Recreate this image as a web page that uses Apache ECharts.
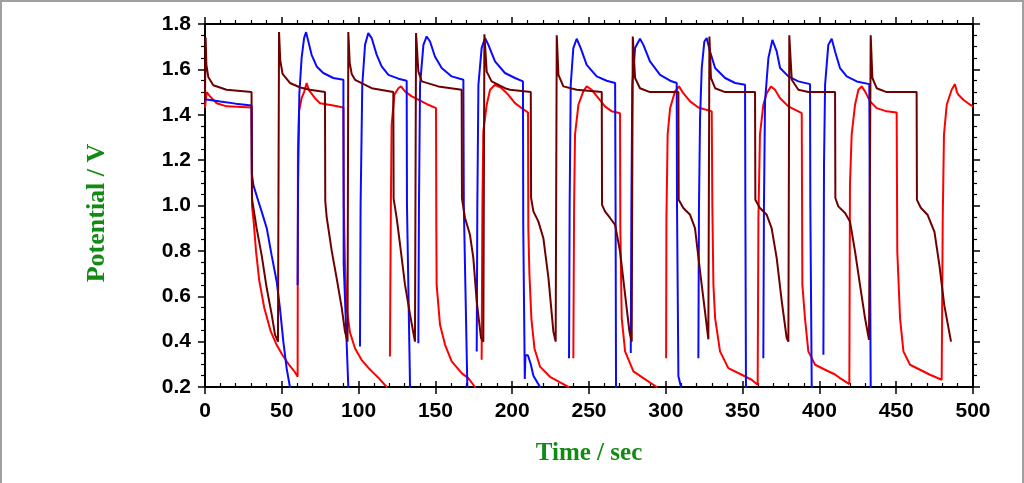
<!DOCTYPE html>
<html>
<head>
<meta charset="utf-8">
<script src="https://cdn.jsdelivr.net/npm/echarts@6/dist/echarts.min.js"></script>
<style>
html,body{margin:0;padding:0;background:#fff;}
#wrap{position:relative;width:1024px;height:483px;}
#chart{position:absolute;left:0;top:0;width:1024px;height:483px;}
#frame{position:absolute;left:0;top:0;width:1020px;height:483px;border-left:2px solid #a0a0a0;border-top:2px solid #a0a0a0;border-right:2px solid #a0a0a0;pointer-events:none;box-sizing:content-box;}
</style>
</head>
<body>
<div id="wrap"><div id="chart"></div><div id="frame"></div></div>
<script>
// tick labels
const xTicks = [0, 50, 100, 150, 200, 250, 300, 350, 400, 450, 500];
const yTicks = [0.2, 0.4, 0.6, 0.8, 1.0, 1.2, 1.4, 1.6, 1.8];

// Series: Time (s) and Potential (V); null marks a break in the trace
const maroonT = [0,0.4,0.9,2.2,5.4,14,30.3,30.6,31.5,33.6,36.9,40.2,43.4,45.6,47.5,
 48.2,49.0,50.5,55.3,62,68.4,78.1,78.3,79.2,82.5,85.7,89,91.1,92.8,
 93.3,94.2,95.5,97.7,108.5,122.6,122.8,124.8,127.0,130.2,133.5,136.7,
 137.4,138.9,141.1,151.9,167.1,167.3,169.3,172.5,174.7,176.9,179.7,181.2,
 181.9,183.4,186.6,195.3,198.6,212.1,212.3,213.8,217.0,220.3,223.6,226.8,228.3,
 229.0,230.1,233.3,242.0,258.3,258.5,260.4,263.7,267.0,270.2,273.5,276.3,277.8,
 278.5,280.0,283.2,289.7,308.2,308.4,311.4,315.8,319.0,322.3,325.5,327.7,
 328.4,329.4,332.1,338.6,358.1,358.3,361.3,365.7,368.9,372.2,375.5,378.7,379.8,
 380.4,382.0,386.3,392.8,410.2,410.4,412.3,416.7,419.9,423.2,426.4,429.7,432.3,
 433.4,434.5,437.3,443.8,463.3,463.5,466,470.5,474.9,478.1,481.3,485.7];
const maroonV = [1.47,1.74,1.62,1.565,1.53,1.51,1.50,1.03,0.99,0.90,0.78,0.635,0.52,0.43,0.40,
 1.765,1.64,1.58,1.54,1.52,1.51,1.50,1.02,0.95,0.80,0.68,0.55,0.445,0.40,
 1.765,1.63,1.58,1.554,1.517,1.50,1.03,0.944,0.827,0.651,0.519,0.40,
 1.76,1.591,1.547,1.525,1.51,1.03,0.945,0.871,0.768,0.577,0.416,0.40,
 1.755,1.59,1.547,1.517,1.51,1.50,1.033,0.974,0.93,0.856,0.68,0.445,0.40,
 1.75,1.576,1.525,1.51,1.50,1.003,0.974,0.945,0.915,0.798,0.607,0.445,0.40,
 1.745,1.562,1.517,1.50,1.50,1.025,0.989,0.959,0.90,0.71,0.533,0.41,
 1.745,1.562,1.517,1.50,1.50,1.025,0.989,0.959,0.90,0.768,0.577,0.416,0.40,
 1.75,1.554,1.51,1.50,1.50,1.033,0.996,0.967,0.93,0.798,0.651,0.504,0.408,
 1.75,1.562,1.517,1.50,1.50,1.025,0.99,0.958,0.884,0.738,0.561,0.40];

const blueT = [0,10,20,30.3,30.5,31.5,34.7,36.9,40.2,43.4,46.7,48.8,51,53.2,55.3,55.8,null,
 60.3,60.6,61.4,62.9,64.5,65.8,67.3,69.4,72.7,77.0,83.5,90.1,90.3,93.3,93.5,null,
 100.9,101.3,102.4,104.2,106.3,108.5,111.8,115.0,119.4,125.9,131.3,131.5,133.5,133.7,null,
 138.9,139.3,140.0,142.2,144.3,146.5,149.7,154.1,160.6,168.2,168.5,170.8,171.0,null,
 176.9,177.3,178.0,180.1,182.3,184.5,188.8,195.3,201.8,207.0,207.2,208.2,208.6,210.2,212.1,213.8,218.1,218.5,null,
 237.0,237.4,238.1,239.8,242.0,244.6,248.5,255.0,261.5,267.0,267.3,267.6,267.8,null,
 277.2,277.6,278.2,280.0,283.2,285.4,289.7,296.3,302.8,307.1,307.3,308.2,309.9,310.2,null,
 321.2,321.6,322.3,323.4,325.1,326.6,328.8,332.1,338.6,345.1,351.6,351.8,352.2,352.4,null,
 363.5,363.9,364.6,366.8,369.4,372.2,374.4,379.8,386.3,393.9,394.1,395.0,395.2,null,
 402.6,403.0,403.7,405.8,408.0,410.2,413.4,417.8,424.3,432.5,432.8,433.4,433.6];
const blueV = [1.468,1.458,1.449,1.441,1.14,1.09,1.02,0.973,0.90,0.78,0.664,0.547,0.40,0.28,0.2,0.15,null,
 0.65,1.10,1.49,1.65,1.738,1.764,1.723,1.664,1.613,1.584,1.562,1.554,0.74,0.2,0.15,null,
 0.379,1.0,1.532,1.708,1.760,1.738,1.664,1.613,1.576,1.559,1.55,1.0,0.2,0.15,null,
 0.393,1.0,1.532,1.708,1.745,1.723,1.657,1.606,1.569,1.554,1.0,0.2,0.15,null,
 0.357,1.0,1.532,1.694,1.738,1.708,1.635,1.584,1.562,1.547,0.9,0.235,0.34,0.34,0.30,0.25,0.2,0.15,null,
 0.327,1.0,1.532,1.694,1.735,1.694,1.620,1.569,1.55,1.54,1.0,0.2,0.15,null,
 0.35,1.0,1.532,1.694,1.735,1.708,1.635,1.576,1.55,1.54,1.0,0.247,0.2,0.15,null,
 0.327,1.0,1.385,1.606,1.723,1.738,1.679,1.606,1.562,1.54,1.532,1.0,0.2,0.15,null,
 0.327,1.0,1.459,1.650,1.730,1.679,1.606,1.569,1.547,1.535,1.0,0.2,0.15,null,
 0.342,1.18,1.532,1.708,1.735,1.679,1.606,1.569,1.547,1.535,1.0,0.2,0.15];

const redT = [0,1.08,3.25,7.59,14.1,30.3,30.6,31.8,33.2,35.3,38.6,42.8,46.7,50.5,54.5,58.6,60.3,
 60.5,61.2,62.9,64.5,66.2,67.5,71.6,74.9,83.5,90.1,
 90.4,91.1,92.2,94.4,97.7,101.9,106.3,110,113,118.3,118.6,null,
 120.4,121.0,121.5,123.3,125.9,127.6,130.2,134.6,141.1,145.4,150.4,150.6,150.8,153.0,156.3,160.6,167.1,171.4,175.8,176.1,null,
 180.1,180.6,181.2,183.4,185.6,188.8,193.1,197.5,201.8,205,210.3,210.5,211.2,212.5,214.5,218.1,224.6,231.2,236.6,236.9,null,
 239.8,240.3,240.9,243.1,246.3,248.5,251.8,256.1,260.4,264.8,270.2,270.4,271.3,273.5,278.9,285.4,294.1,294.4,null,
 300.2,300.4,301.2,302.8,306.0,308.6,311.4,315.8,321.2,329.9,330.3,331.0,332.1,335.3,340.7,349.4,355.9,359.8,
 360.3,361.3,363.5,365.7,368.5,371.1,374.4,379.8,388.5,388.9,390.6,392.8,397.2,403.7,410.2,413.4,419.5,
 419.9,421.0,423.2,425.4,427.5,429.7,433.0,437.3,443.8,450.3,450.7,452.5,454.7,459.0,465.5,472.0,479.6,
 480.3,481.1,482.9,486.1,488.3,489.5,490.5,493.7,498.1,500.2];
const redV = [1.43,1.50,1.481,1.451,1.437,1.432,1.0,0.92,0.80,0.67,0.548,0.445,0.385,0.34,0.30,0.265,0.245,
 1.24,1.415,1.473,1.50,1.54,1.51,1.473,1.451,1.441,1.432,
 1.0,0.75,0.55,0.44,0.37,0.32,0.285,0.26,0.24,0.2,0.15,null,
 0.334,1.0,1.356,1.488,1.517,1.525,1.503,1.481,1.459,1.444,1.429,0.9,0.651,0.474,0.386,0.313,0.261,0.239,0.2,0.15,null,
 0.32,1.0,1.327,1.444,1.51,1.532,1.517,1.488,1.451,1.435,1.41,0.9,0.70,0.50,0.37,0.29,0.245,0.22,0.2,0.15,null,
 0.327,1.0,1.312,1.444,1.503,1.525,1.51,1.473,1.437,1.415,1.407,0.9,0.504,0.357,0.269,0.239,0.2,0.15,null,
 0.327,0.94,1.312,1.429,1.503,1.525,1.495,1.459,1.432,1.415,1.0,0.651,0.504,0.357,0.283,0.254,0.232,0.21,
 0.945,1.312,1.444,1.495,1.525,1.51,1.473,1.437,1.407,0.651,0.504,0.357,0.298,0.276,0.255,0.239,0.213,
 1.091,1.312,1.444,1.51,1.525,1.503,1.459,1.429,1.415,1.41,0.798,0.504,0.357,0.298,0.276,0.254,0.232,
 0.945,1.312,1.444,1.51,1.535,1.50,1.488,1.466,1.444,1.437];

function pairs(T, V) {
  return T.map((t, i) => (t === null || V[i] === null) ? ['-', '-'] : [t, V[i]]);
}

const labelFont = { fontFamily: 'Liberation Sans, Arial, sans-serif', fontWeight: 'bold', fontSize: 21, color: '#000' };
const titleFont = { fontFamily: 'Liberation Serif, Times New Roman, serif', fontWeight: 'bold', fontSize: 25, color: '#138a13' };
const lineBlack = { show: true, onZero: false, lineStyle: { color: '#000', width: 2 } };

function lineSeries(name, T, V, color) {
  return { name: name, type: 'line', xAxisIndex: 0, yAxisIndex: 0, data: pairs(T, V),
    showSymbol: false, symbol: 'none', clip: true, connectNulls: false,
    lineStyle: { color: color, width: 2 } };
}

const chart = echarts.init(document.getElementById('chart'), null, { renderer: 'canvas' });
chart.setOption({
  animation: false,
  backgroundColor: '#fff',
  grid: { left: 205, right: 51, top: 24, bottom: 96, containLabel: false },
  graphic: [
    { type: 'text', x: 97, y: 213, rotation: Math.PI / 2,
      style: { text: 'Potential / V', fill: '#138a13', font: 'bold 26px "Liberation Serif", "Times New Roman", serif',
        textAlign: 'center', textVerticalAlign: 'middle' } }
  ],
  xAxis: [
    { type: 'value', position: 'bottom', min: xTicks[0], max: xTicks[xTicks.length - 1], interval: 50,
      axisLine: lineBlack, axisTick: { show: true, inside: false, length: 7, lineStyle: { color: '#000', width: 1.5 } },
      minorTick: { show: false }, splitLine: { show: false },
      axisLabel: Object.assign({ margin: 14, formatter: v => String(v) }, labelFont),
      name: 'Time / sec', nameLocation: 'middle', nameGap: 54, nameTextStyle: titleFont },
    { type: 'value', position: 'top', min: xTicks[0], max: xTicks[xTicks.length - 1], interval: 50,
      axisLine: lineBlack, axisTick: { show: true, inside: false, length: 7, lineStyle: { color: '#000', width: 1.5 } },
      minorTick: { show: true, splitNumber: 5, length: 4, lineStyle: { color: '#000', width: 1.2 } },
      splitLine: { show: false }, axisLabel: { show: false } },
    { type: 'value', position: 'bottom', min: xTicks[0], max: xTicks[xTicks.length - 1], interval: 50,
      axisLine: { show: false, onZero: false }, axisTick: { show: true, inside: true, length: 6, lineStyle: { color: '#000', width: 1.5 } },
      minorTick: { show: true, splitNumber: 5, length: 4, lineStyle: { color: '#000', width: 1.2 } },
      splitLine: { show: false }, axisLabel: { show: false } }
  ],
  yAxis: [
    { type: 'value', position: 'left', min: yTicks[0], max: yTicks[yTicks.length - 1], interval: 0.2,
      axisLine: lineBlack, axisTick: { show: true, inside: false, length: 7, lineStyle: { color: '#000', width: 1.5 } },
      minorTick: { show: true, splitNumber: 4, length: 4, lineStyle: { color: '#000', width: 1.2 } },
      splitLine: { show: false },
      axisLabel: Object.assign({ margin: 14, formatter: v => v.toFixed(1) }, labelFont) },
    { type: 'value', position: 'right', min: yTicks[0], max: yTicks[yTicks.length - 1], interval: 0.2,
      axisLine: lineBlack, axisTick: { show: true, inside: false, length: 7, lineStyle: { color: '#000', width: 1.5 } },
      minorTick: { show: true, splitNumber: 4, length: 4, lineStyle: { color: '#000', width: 1.2 } },
      splitLine: { show: false }, axisLabel: { show: false } }
  ],
  series: [
    lineSeries('red', redT, redV, '#ff0000'),
    lineSeries('blue', blueT, blueV, '#0a0aff'),
    lineSeries('maroon', maroonT, maroonV, '#6e0000')
  ]
});
</script>
</body>
</html>
